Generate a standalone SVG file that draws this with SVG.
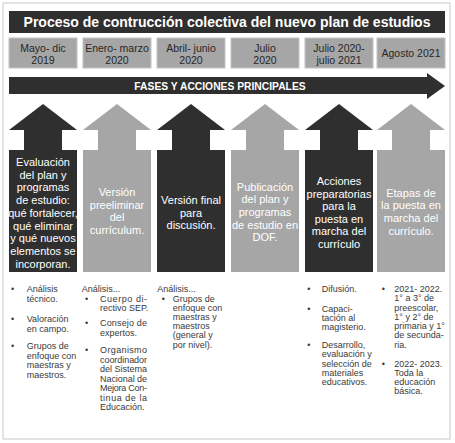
<svg xmlns="http://www.w3.org/2000/svg" width="455" height="443" viewBox="0 0 455 443">
<style>
.dark{fill:#2f2f2f}
.light{fill:#a6a6a6}
.date{fill:#a6a6a6;stroke:#c4c4c4;stroke-width:1}
.dt{font-family:"Liberation Sans",Arial,sans-serif;font-size:10.5px;fill:#262626;text-anchor:middle}
.at{font-family:"Liberation Sans",Arial,sans-serif;font-size:11px;fill:#ffffff;text-anchor:middle}
.bt{font-family:"Liberation Sans",Arial,sans-serif;font-size:9px;fill:#3a3a3a}
</style>
<rect x="3" y="3" width="447" height="436" fill="#ffffff" stroke="#c8c8c8" stroke-width="1"/>
<g id="title">
<rect class="dark" x="9" y="11" width="436" height="22"/>
<text x="227" y="27" font-family="'Liberation Sans',Arial,sans-serif" font-size="14" font-weight="bold" fill="#ffffff" text-anchor="middle">Proceso de contrucción colectiva del nuevo plan de estudios</text>
</g>
<g id="dates">
<g id="date1"><rect class="date" x="9" y="38" width="68" height="30"/><text class="dt" x="43" y="51.5">Mayo- dic</text><text class="dt" x="43" y="64">2019</text></g>
<g id="date2"><rect class="date" x="83" y="38" width="68" height="30"/><text class="dt" x="117" y="51.5">Enero- marzo</text><text class="dt" x="117" y="64">2020</text></g>
<g id="date3"><rect class="date" x="157" y="38" width="68" height="30"/><text class="dt" x="191" y="51.5">Abril- junio</text><text class="dt" x="191" y="64">2020</text></g>
<g id="date4"><rect class="date" x="231" y="38" width="68" height="30"/><text class="dt" x="265" y="51.5">Julio</text><text class="dt" x="265" y="64">2020</text></g>
<g id="date5"><rect class="date" x="305" y="38" width="68" height="30"/><text class="dt" x="339" y="51.5">Julio 2020-</text><text class="dt" x="339" y="64">julio 2021</text></g>
<g id="date6"><rect class="date" x="377" y="38" width="68" height="30"/><text class="dt" x="411" y="57">Agosto 2021</text></g>
</g>
<g id="phases-arrow">
<polygon class="dark" points="9,77 427,77 427,73 445,86 427,99 427,94 9,94"/>
<text x="220" y="89.5" font-family="'Liberation Sans',Arial,sans-serif" font-size="10.3" font-weight="bold" fill="#ffffff" text-anchor="middle">FASES Y ACCIONES PRINCIPALES</text>
</g>
<g id="arrow1">
<polygon class="dark" points="43,104 77,130 62,130 62,150 77,150 77,272 9,272 9,150 24,150 24,130 9,130"/>
<text class="at"><tspan x="43" y="166">Evaluación</tspan><tspan x="43" y="178.7">del plan y</tspan><tspan x="43" y="191.4">programas</tspan><tspan x="43" y="204.1">de estudio:</tspan><tspan x="43" y="216.8">qué fortalecer,</tspan><tspan x="43" y="229.5">qué eliminar</tspan><tspan x="43" y="242.2">y qué nuevos</tspan><tspan x="43" y="254.9">elementos se</tspan><tspan x="43" y="267.6">incorporan.</tspan></text>
</g>
<g id="arrow2">
<polygon class="light" points="117,104 151,130 136,130 136,150 151,150 151,272 83,272 83,150 98,150 98,130 83,130"/>
<text class="at"><tspan x="117" y="196">Versión</tspan><tspan x="117" y="208.7">preeliminar</tspan><tspan x="117" y="221.4">del</tspan><tspan x="117" y="234.1">currículum.</tspan></text>
</g>
<g id="arrow3">
<polygon class="dark" points="191,104 225,130 210,130 210,150 225,150 225,272 157,272 157,150 172,150 172,130 157,130"/>
<text class="at"><tspan x="191" y="204">Versión final</tspan><tspan x="191" y="216.7">para</tspan><tspan x="191" y="229.4">discusión.</tspan></text>
</g>
<g id="arrow4">
<polygon class="light" points="265,104 299,130 284,130 284,150 299,150 299,272 231,272 231,150 246,150 246,130 231,130"/>
<text class="at"><tspan x="265" y="190.5">Publicación</tspan><tspan x="265" y="203.2">del plan y</tspan><tspan x="265" y="215.9">programas</tspan><tspan x="265" y="228.6">de estudio en</tspan><tspan x="265" y="241.3">DOF.</tspan></text>
</g>
<g id="arrow5">
<polygon class="dark" points="339,104 373,130 358,130 358,150 373,150 373,272 305,272 305,150 320,150 320,130 305,130"/>
<text class="at"><tspan x="339" y="185">Acciones</tspan><tspan x="339" y="197.5">preparatorias</tspan><tspan x="339" y="210">para la</tspan><tspan x="339" y="222.5">puesta en</tspan><tspan x="339" y="235">marcha del</tspan><tspan x="339" y="247.5">currículo</tspan></text>
</g>
<g id="arrow6">
<polygon class="light" points="411,104 445,130 430,130 430,150 445,150 445,272 377,272 377,150 392,150 392,130 377,130"/>
<text class="at"><tspan x="411" y="196.5">Etapas de</tspan><tspan x="411" y="209.2">la puesta en</tspan><tspan x="411" y="221.9">marcha del</tspan><tspan x="411" y="234.6">currículo.</tspan></text>
</g>
<g id="notes1">
<text class="bt"><tspan x="11" y="291.5">•</tspan><tspan x="26.7" y="291.5">Análisis</tspan><tspan x="26.7" y="301.5">técnico.</tspan><tspan x="11" y="321.5">•</tspan><tspan x="26.7" y="321.5">Valoración</tspan><tspan x="26.7" y="331.5">en campo.</tspan><tspan x="11" y="349">•</tspan><tspan x="26.7" y="349">Grupos de</tspan><tspan x="26.7" y="358.7">enfoque con</tspan><tspan x="26.7" y="368.4">maestras y</tspan><tspan x="26.7" y="378">maestros.</tspan></text>
</g>
<g id="notes2">
<text class="bt"><tspan x="81.7" y="291.5">Análisis...</tspan><tspan x="85" y="301.5">•</tspan><tspan x="100" y="301.5" textLength="47" lengthAdjust="spacing">Cuerpo di-</tspan><tspan x="100" y="311">rectivo SEP.</tspan><tspan x="85" y="326">•</tspan><tspan x="100" y="326" textLength="47" lengthAdjust="spacing">Consejo de</tspan><tspan x="100" y="335.5">expertos.</tspan><tspan x="85" y="353">•</tspan><tspan x="100" y="353" textLength="47" lengthAdjust="spacing">Organismo</tspan><tspan x="100" y="362.5" textLength="47" lengthAdjust="spacing">coordinador</tspan><tspan x="100" y="372" textLength="47" lengthAdjust="spacing">del Sistema</tspan><tspan x="100" y="381.5" textLength="47" lengthAdjust="spacing">Nacional de</tspan><tspan x="100" y="391" textLength="47" lengthAdjust="spacing">Mejora Con-</tspan><tspan x="100" y="400.5" textLength="47" lengthAdjust="spacing">tinua de la</tspan><tspan x="100" y="410">Educación.</tspan></text>
</g>
<g id="notes3">
<text class="bt"><tspan x="157.3" y="291.5">Análisis...</tspan><tspan x="161.7" y="301.5">•</tspan><tspan x="172.7" y="301.5">Grupos de</tspan><tspan x="172.7" y="310.5">enfoque con</tspan><tspan x="172.7" y="319.9">maestras y</tspan><tspan x="172.7" y="329.2">maestros</tspan><tspan x="172.7" y="338.2">(general y</tspan><tspan x="172.7" y="347.5">por nivel).</tspan></text>
</g>
<g id="notes5">
<text class="bt"><tspan x="307.3" y="291.5">•</tspan><tspan x="321.7" y="291.5">Difusión.</tspan><tspan x="307.3" y="311.5">•</tspan><tspan x="321.7" y="311.5">Capaci-</tspan><tspan x="321.7" y="320.5">tación al</tspan><tspan x="321.7" y="329.9">magisterio.</tspan><tspan x="307.3" y="348.2">•</tspan><tspan x="321.7" y="348.2">Desarrollo,</tspan><tspan x="321.7" y="357.2">evaluación y</tspan><tspan x="321.7" y="366.5">selección de</tspan><tspan x="321.7" y="375.9">materiales</tspan><tspan x="321.7" y="384.9">educativos.</tspan></text>
</g>
<g id="notes6">
<text class="bt"><tspan x="381.7" y="291.5">•</tspan><tspan x="394.3" y="291.5">2021- 2022.</tspan><tspan x="394.3" y="300.9">1° a 3° de</tspan><tspan x="394.3" y="310.5">preescolar,</tspan><tspan x="394.3" y="319.9">1° y 2° de</tspan><tspan x="394.3" y="329.2">primaria y 1°</tspan><tspan x="394.3" y="338.2">de secunda-</tspan><tspan x="394.3" y="347.5">ria.</tspan><tspan x="381.7" y="366.5">•</tspan><tspan x="394.3" y="366.5">2022- 2023.</tspan><tspan x="394.3" y="375.5">Toda la</tspan><tspan x="394.3" y="384.9">educación</tspan><tspan x="394.3" y="394.2">básica.</tspan></text>
</g>
</svg>
